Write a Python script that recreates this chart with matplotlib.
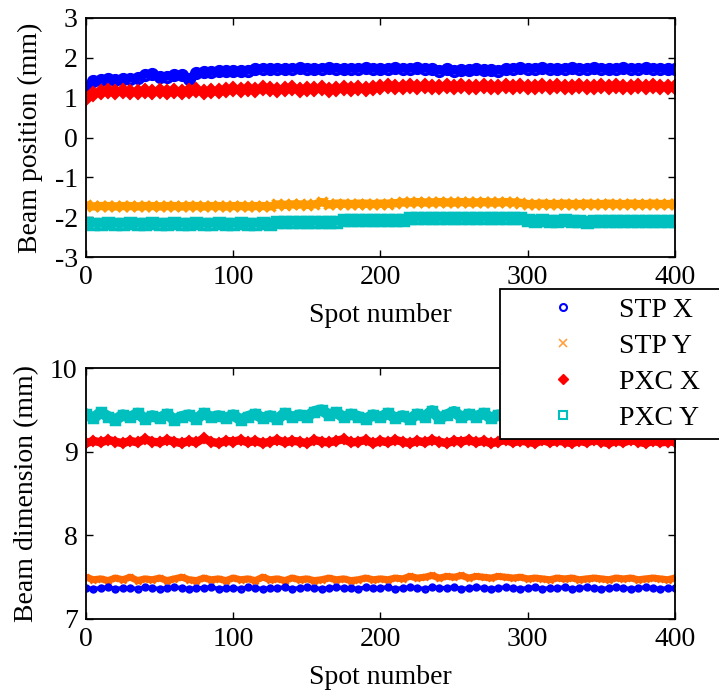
import numpy as np
import matplotlib
matplotlib.use("Agg")
import matplotlib.pyplot as plt
from matplotlib.lines import Line2D

plt.rcParams['font.family'] = ['Liberation Serif', 'DejaVu Serif']
plt.rcParams['axes.unicode_minus'] = False
fontsize = 20

# spot number (sampled every 5 spots)
spot = list(range(0, 401, 5))

# beam position (mm)
stpx_pos = [1.25, 1.42, 1.45, 1.46, 1.44, 1.47, 1.48, 1.49, 1.58, 1.60,
            1.52, 1.53, 1.56, 1.58, 1.46, 1.62, 1.64, 1.65, 1.66, 1.66,
            1.67, 1.67, 1.68, 1.72, 1.73, 1.72, 1.73, 1.72, 1.73, 1.74,
            1.73, 1.72, 1.73, 1.74, 1.73, 1.72, 1.73, 1.73, 1.74, 1.73,
            1.72, 1.73, 1.74, 1.73, 1.73, 1.74, 1.73, 1.73, 1.68, 1.71,
            1.68, 1.70, 1.69, 1.71, 1.69, 1.70, 1.68, 1.72, 1.73, 1.74,
            1.73, 1.73, 1.74, 1.73, 1.72, 1.73, 1.74, 1.73, 1.73, 1.74,
            1.73, 1.72, 1.73, 1.74, 1.73, 1.73, 1.74, 1.73, 1.73, 1.72,
            1.73]
stpy_pos = [-1.70, -1.73, -1.72, -1.72, -1.73, -1.72, -1.72, -1.73, -1.72, -1.72,
            -1.73, -1.72, -1.72, -1.73, -1.72, -1.72, -1.73, -1.72, -1.72, -1.73,
            -1.72, -1.72, -1.73, -1.72, -1.72, -1.73, -1.68, -1.69, -1.68, -1.68,
            -1.69, -1.68, -1.62, -1.68, -1.66, -1.66, -1.67, -1.66, -1.66, -1.67,
            -1.66, -1.66, -1.65, -1.63, -1.63, -1.62, -1.63, -1.63, -1.62, -1.63,
            -1.63, -1.62, -1.63, -1.63, -1.62, -1.63, -1.63, -1.62, -1.63, -1.64,
            -1.67, -1.67, -1.66, -1.67, -1.67, -1.66, -1.67, -1.67, -1.66, -1.67,
            -1.67, -1.66, -1.67, -1.67, -1.66, -1.67, -1.67, -1.66, -1.67, -1.67,
            -1.66]
pxcx_pos = [0.98, 1.10, 1.14, 1.16, 1.13, 1.17, 1.15, 1.14, 1.17, 1.15,
            1.16, 1.14, 1.17, 1.15, 1.16, 1.18, 1.15, 1.17, 1.16, 1.18,
            1.21, 1.19, 1.22, 1.20, 1.23, 1.21, 1.19, 1.22, 1.24, 1.20,
            1.22, 1.21, 1.23, 1.20, 1.22, 1.24, 1.21, 1.23, 1.22, 1.25,
            1.27, 1.29, 1.26, 1.28, 1.30, 1.27, 1.29, 1.28, 1.26, 1.29,
            1.28, 1.30, 1.27, 1.28, 1.29, 1.26, 1.28, 1.30, 1.27, 1.29,
            1.28, 1.26, 1.29, 1.28, 1.30, 1.27, 1.28, 1.29, 1.26, 1.28,
            1.30, 1.27, 1.29, 1.28, 1.26, 1.29, 1.28, 1.30, 1.27, 1.28,
            1.28]
pxcy_pos = [-2.14, -2.16, -2.16, -2.15, -2.16, -2.16, -2.15, -2.16, -2.16, -2.15,
            -2.16, -2.16, -2.15, -2.16, -2.16, -2.15, -2.16, -2.16, -2.15, -2.16,
            -2.16, -2.15, -2.16, -2.16, -2.15, -2.16, -2.12, -2.12, -2.11, -2.12,
            -2.12, -2.11, -2.12, -2.12, -2.11, -2.08, -2.08, -2.07, -2.08, -2.08,
            -2.07, -2.08, -2.08, -2.07, -2.02, -2.01, -2.02, -2.02, -2.01, -2.02,
            -2.02, -2.01, -2.02, -2.02, -2.01, -2.02, -2.02, -2.01, -2.02, -2.03,
            -2.08, -2.09, -2.08, -2.09, -2.09, -2.08, -2.09, -2.09, -2.13, -2.10,
            -2.10, -2.09, -2.10, -2.10, -2.09, -2.10, -2.10, -2.09, -2.10, -2.10,
            -2.10]

# beam dimension (mm)
stpx_dim = [7.37, 7.36, 7.37, 7.38, 7.36, 7.37, 7.37, 7.36, 7.38, 7.37,
            7.36, 7.37, 7.38, 7.37, 7.36, 7.37, 7.37, 7.38, 7.36, 7.37,
            7.37, 7.36, 7.38, 7.37, 7.36, 7.37, 7.37, 7.38, 7.36, 7.37,
            7.38, 7.37, 7.36, 7.37, 7.38, 7.37, 7.37, 7.36, 7.38, 7.37,
            7.37, 7.38, 7.36, 7.37, 7.38, 7.37, 7.36, 7.38, 7.37, 7.37,
            7.38, 7.36, 7.37, 7.38, 7.37, 7.36, 7.37, 7.38, 7.37, 7.36,
            7.37, 7.38, 7.36, 7.37, 7.37, 7.38, 7.36, 7.37, 7.38, 7.37,
            7.36, 7.37, 7.38, 7.37, 7.36, 7.37, 7.38, 7.37, 7.36, 7.37,
            7.37]
stpy_dim = [7.50, 7.47, 7.48, 7.46, 7.49, 7.47, 7.50, 7.46, 7.48, 7.47,
            7.49, 7.46, 7.48, 7.50, 7.47, 7.46, 7.49, 7.47, 7.48, 7.46,
            7.49, 7.47, 7.48, 7.46, 7.50, 7.47, 7.48, 7.46, 7.49, 7.47,
            7.48, 7.46, 7.47, 7.49, 7.47, 7.48, 7.46, 7.47, 7.49, 7.47,
            7.48, 7.47, 7.49, 7.48, 7.51, 7.49, 7.50, 7.52, 7.49, 7.51,
            7.50, 7.52, 7.49, 7.51, 7.50, 7.49, 7.51, 7.50, 7.49, 7.50,
            7.48, 7.49, 7.48, 7.47, 7.49, 7.48, 7.49, 7.47, 7.48, 7.49,
            7.48, 7.47, 7.49, 7.48, 7.49, 7.47, 7.48, 7.49, 7.48, 7.47,
            7.49]
pxcx_dim = [9.10, 9.13, 9.11, 9.14, 9.12, 9.10, 9.13, 9.11, 9.15, 9.12,
            9.11, 9.14, 9.12, 9.10, 9.13, 9.11, 9.16, 9.12, 9.10, 9.13,
            9.12, 9.14, 9.11, 9.13, 9.10, 9.12, 9.14, 9.11, 9.13, 9.12,
            9.10, 9.14, 9.12, 9.11, 9.13, 9.15, 9.11, 9.12, 9.14, 9.10,
            9.13, 9.11, 9.14, 9.12, 9.10, 9.13, 9.11, 9.14, 9.12, 9.10,
            9.13, 9.12, 9.14, 9.11, 9.13, 9.10, 9.12, 9.14, 9.11, 9.13,
            9.12, 9.10, 9.14, 9.11, 9.13, 9.12, 9.10, 9.13, 9.11, 9.14,
            9.12, 9.10, 9.13, 9.11, 9.14, 9.12, 9.10, 9.13, 9.11, 9.12,
            9.12]
pxcy_dim = [9.45, 9.40, 9.47, 9.42, 9.38, 9.44, 9.41, 9.46, 9.39, 9.43,
            9.40, 9.45, 9.38, 9.42, 9.44, 9.39, 9.46, 9.41, 9.43, 9.40,
            9.44, 9.38, 9.42, 9.45, 9.40, 9.43, 9.39, 9.46, 9.41, 9.44,
            9.42, 9.48, 9.50, 9.44, 9.47, 9.41, 9.45, 9.42, 9.39, 9.44,
            9.41, 9.46, 9.40, 9.43, 9.39, 9.45, 9.42, 9.49, 9.40, 9.44,
            9.48, 9.41, 9.45, 9.42, 9.46, 9.40, 9.44, 9.41, 9.47, 9.43,
            9.40, 9.45, 9.42, 9.38, 9.44, 9.41, 9.46, 9.39, 9.43, 9.40,
            9.45, 9.42, 9.38, 9.44, 9.41, 9.46, 9.39, 9.43, 9.40, 9.45,
            9.42]

labels = ['STP X', 'STP Y', 'PXC X', 'PXC Y']
blue = '#0000ff'
orange_top = '#ff9900'
orange_bot = '#ff6600'
red = '#ff0000'
cyan = '#00bfbf'


def style(ax, ylabel):
    ax.set_xlim(0, 400)
    ax.set_xticks([0, 100, 200, 300, 400])
    ax.tick_params(direction='in', top=True, right=True, length=5,
                   width=1, labelsize=fontsize, pad=6)
    for s in ax.spines.values():
        s.set_linewidth(1.3)
    ax.set_xlabel('Spot number', fontsize=fontsize, labelpad=9)
    ax.set_ylabel(ylabel, fontsize=fontsize, labelpad=8)


fig = plt.figure(figsize=(7.19, 6.91), dpi=100)
ax1 = fig.add_axes([0.1196, 0.628, 0.8192, 0.346])
ax2 = fig.add_axes([0.1196, 0.1042, 0.8192, 0.3632])

ms = 7
ax1.plot(spot, stpx_pos, 'o', color=blue, mfc='none', ms=ms, mew=2.5, ls='-', lw=6)
ax1.plot(spot, pxcx_pos, 'D', color=red, ms=ms, mew=1.5, ls='-', lw=6)
ax1.plot(spot, stpy_pos, 'x', color=orange_top, ms=ms, mew=2.5, ls='-', lw=6)
ax1.plot(spot, pxcy_pos, 's', color=cyan, mfc='none', ms=ms, mew=2.5, ls='-', lw=6)
ax1.set_ylim(-3, 3)
ax1.set_yticks(range(-3, 4))
style(ax1, 'Beam position (mm)')

ms2 = 5
ax2.plot(spot, pxcy_dim, 's', color=cyan, mfc='none', ms=ms2 + 1, mew=2.5, ls='-', lw=8)
ax2.plot(spot, pxcx_dim, 'D', color=red, ms=ms2, mew=1.5, ls='-', lw=6)
ax2.plot(spot, stpy_dim, 'x', color=orange_bot, ms=ms2, mew=2, ls='-', lw=5)
ax2.plot(spot, stpx_dim, 'o', color=blue, mfc='none', ms=ms2 - 1, mew=2, ls='-', lw=3)
ax2.set_ylim(7, 10)
ax2.set_yticks([7, 8, 9, 10])
style(ax2, 'Beam dimension (mm)')

handles = [
    Line2D([], [], ls='none', marker='o', color=blue, mfc='none', ms=5, mew=1.5),
    Line2D([], [], ls='none', marker='x', color='#ffa040', ms=6, mew=1.2),
    Line2D([], [], ls='none', marker='D', color=red, ms=5),
    Line2D([], [], ls='none', marker='s', color=cyan, mfc='none', ms=6, mew=1.5),
]
leg = fig.legend(handles, labels, loc='upper left',
                 bbox_to_anchor=(500 / 719, 1 - 439 / 691, 225 / 719, 150 / 691),
                 mode='expand', borderaxespad=0, fontsize=fontsize,
                 fancybox=False, edgecolor='black', framealpha=1,
                 borderpad=0.3, handlelength=3.9, handletextpad=0.1,
                 labelspacing=0.38)
leg.get_frame().set_linewidth(1.3)

fig.savefig('out.png', dpi=100)
